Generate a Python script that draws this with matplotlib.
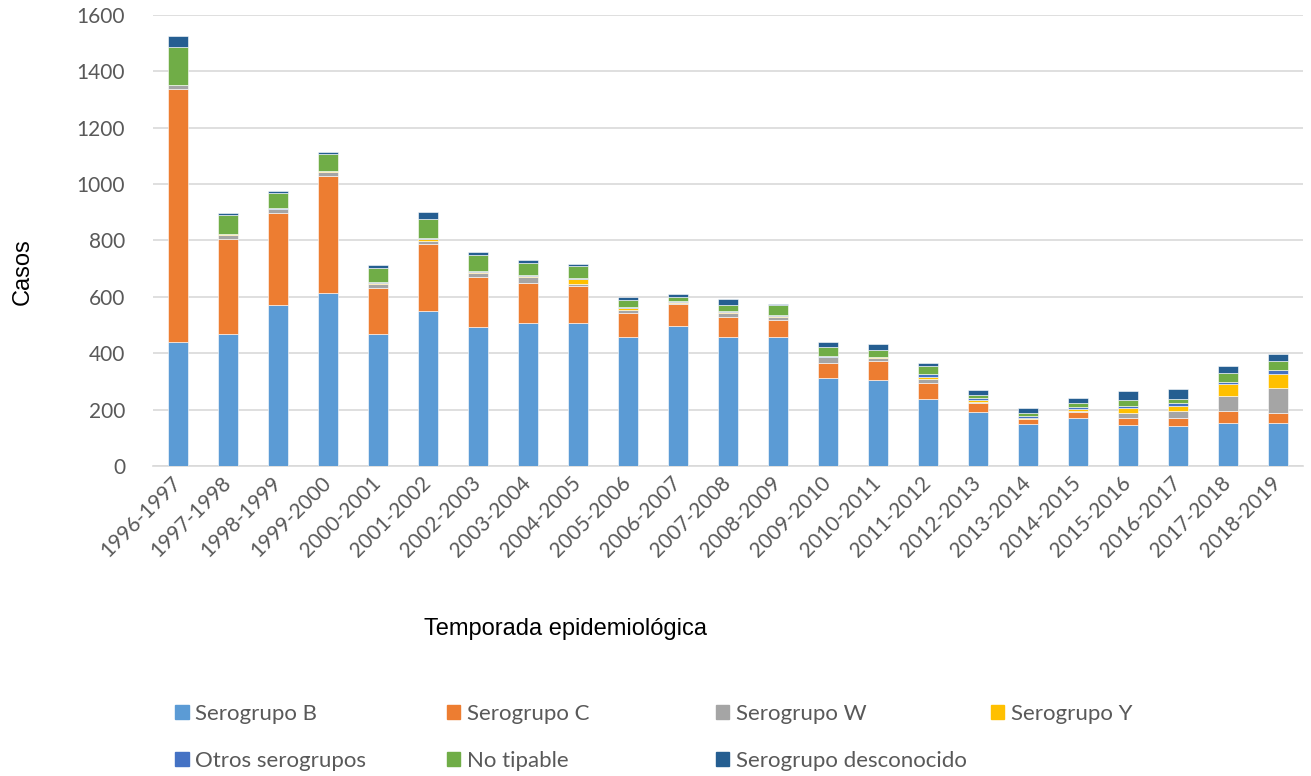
import matplotlib
matplotlib.use("Agg")
import matplotlib.pyplot as plt
import matplotlib.patches as mpatches
import numpy as np

# Temporadas epidemiológicas
temporadas = ["1996-1997", "1997-1998", "1998-1999", "1999-2000", "2000-2001",
              "2001-2002", "2002-2003", "2003-2004", "2004-2005", "2005-2006",
              "2006-2007", "2007-2008", "2008-2009", "2009-2010", "2010-2011",
              "2011-2012", "2012-2013", "2013-2014", "2014-2015", "2015-2016",
              "2016-2017", "2017-2018", "2018-2019"]

# Casos por serogrupo
serogrupo_b = [439, 470, 570, 615, 470, 550, 493, 507, 509, 459, 498, 457,
               456, 311, 304, 237, 191, 148, 172, 146, 143, 152, 152]
serogrupo_c = [898, 337, 327, 412, 163, 236, 176, 143, 129, 84, 78, 73,
               62, 55, 69, 59, 31, 18, 21, 23, 29, 42, 37]
serogrupo_w = [14, 13, 13, 16, 14, 13, 14, 21, 9, 12, 2, 12,
               11, 19, 10, 13, 5, 2, 2, 19, 23, 55, 87]
serogrupo_y = [0, 3, 1, 2, 1, 7, 6, 4, 16, 7, 5, 4,
               4, 1, 3, 6, 7, 4, 7, 18, 19, 41, 51]
otros = [2, 0, 3, 2, 3, 4, 4, 2, 3, 2, 1, 4,
         4, 3, 2, 12, 7, 7, 9, 6, 10, 9, 12]
no_tipable = [132, 68, 55, 59, 50, 66, 56, 44, 42, 24, 15, 22,
              35, 33, 25, 28, 12, 8, 11, 22, 15, 30, 34]
desconocido = [39, 7, 7, 9, 11, 24, 11, 9, 8, 13, 10, 20,
               2, 19, 20, 12, 18, 20, 19, 32, 34, 25, 26]

series = [
    ("Serogrupo B", serogrupo_b, "#5B9BD5"),
    ("Serogrupo C", serogrupo_c, "#ED7D31"),
    ("Serogrupo W", serogrupo_w, "#A5A5A5"),
    ("Serogrupo Y", serogrupo_y, "#FFC000"),
    ("Otros serogrupos", otros, "#4472C4"),
    ("No tipable", no_tipable, "#70AD47"),
    ("Serogrupo desconocido", desconocido, "#255E91"),
]

fig = plt.figure(figsize=(13.11, 7.76), dpi=100)
ax = fig.add_axes([0.1167, 0.3995, 0.8772, 0.5812])

x = np.arange(len(temporadas))
bottom = np.zeros(len(temporadas))
handles = {}
for name, vals, color in series:
    vals = np.array(vals, dtype=float)
    ax.bar(x, vals, bottom=bottom, width=0.4, color=color,
           edgecolor="white", linewidth=0.4, zorder=3)
    bottom += vals
    handles[name] = mpatches.Patch(color=color, label=name)

ax.set_xlim(-0.5, len(temporadas) - 0.5)
ax.set_ylim(0, 1600)
ax.set_yticks(range(0, 1601, 200))
ax.grid(axis="y", color="#D9D9D9", linewidth=1.2, zorder=0)
for s in ["top", "right", "left"]:
    ax.spines[s].set_visible(False)
ax.spines["bottom"].set_color("#D9D9D9")
ax.spines["bottom"].set_linewidth(1.2)

ax.tick_params(axis="y", length=0, pad=20, labelsize=15, labelcolor="#595959")
ax.tick_params(axis="x", length=0, pad=10, labelsize=15, labelcolor="#595959")
for lbl in ax.get_yticklabels():
    lbl.set_family("Lato")
ax.set_xticks(x)
ax.set_xticklabels(temporadas, rotation=45, ha="right", va="center",
                   rotation_mode="anchor", family="Lato")

fig.text(0.017, 0.65, "Casos", rotation=90, ha="center", va="center",
         fontsize=17, family="Liberation Sans")
fig.text(0.431, 0.19, "Temporada epidemiológica", ha="center", va="center",
         fontsize=17, family="Liberation Sans")

# Leyenda en 4 columnas, orden por filas
columnas = [["Serogrupo B", "Otros serogrupos"],
            ["Serogrupo C", "No tipable"],
            ["Serogrupo W", "Serogrupo desconocido"],
            ["Serogrupo Y"]]
col_x = [0.127, 0.334, 0.539, 0.749]
for cx, nombres in zip(col_x, columnas):
    fig.legend(handles=[handles[n] for n in nombres], loc="upper left",
               bbox_to_anchor=(cx, 0.104), frameon=False,
               prop={"family": "Lato", "size": 16}, labelcolor="#595959",
               handlelength=0.6, handleheight=0.6, handletextpad=0.3,
               labelspacing=1.2, borderaxespad=0)

fig.savefig("out.png", dpi=100)
